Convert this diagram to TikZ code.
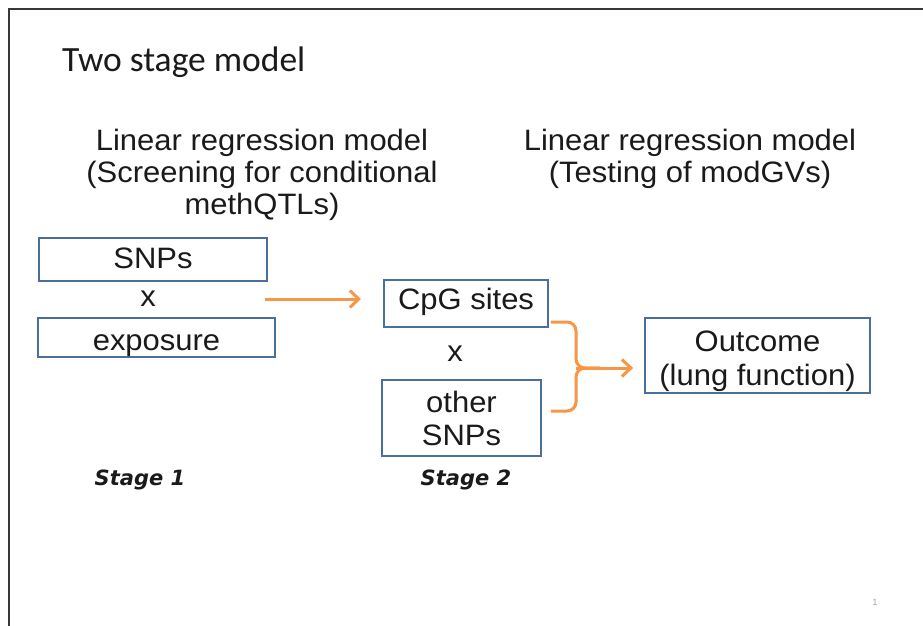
\documentclass[tikz,border=0pt]{standalone}
\usepackage{fontspec}
\setmainfont[FakeStretch=1.05]{Liberation Sans}
\newfontfamily\titlefont{Carlito}
\newfontfamily\stagefont{DejaVu Sans}
\usetikzlibrary{arrows.meta,calc}
\definecolor{boxblue}{HTML}{4A6EA0}
\definecolor{arrorange}{HTML}{F79646}
\definecolor{frame}{HTML}{383838}
\definecolor{txt}{HTML}{1A1A1A}
\tikzset{
  box/.style={draw=boxblue,line width=1.8pt,inner sep=0pt,align=center,text=txt,
    font=\fontsize{29.5}{33}\selectfont},
  plain/.style={inner sep=0pt,align=center,text=txt,font=\fontsize{29.5}{32}\selectfont},
  stagelbl/.style={inner sep=0pt,text=txt,font=\stagefont\bfseries\itshape\fontsize{21}{24}\selectfont},
  conn/.style={draw=arrorange,line width=3pt},
  arr/.style={conn,-{Straight Barb[length=9pt,width=17pt,line width=3pt]}}
}
\begin{document}
\begin{tikzpicture}[x=1pt,y=-1pt]
\useasboundingbox (0,0) rectangle (923,626);
\fill[white] (0,0) rectangle (923,626);
\draw[frame,line width=2.6pt] (9,626) -- (9,9) -- (923,9);
\node[anchor=west,inner sep=0pt,text=txt,font=\titlefont\fontsize{35.5}{40}\selectfont] (title) at (62,62) {Two stage model};
\node[plain] (h1) at (262,175) {Linear regression model\\(Screening for conditional\\methQTLs)};
\node[plain] (h2) at (690,159) {Linear regression model\\(Testing of modGVs)};
\node[box,minimum width=228pt,minimum height=43pt,text height=21pt,text depth=3pt] (snps) at (153,259.5) {SNPs};
\node[plain] (x1) at (148,299) {x};
\node[box,minimum width=237pt,minimum height=39pt,text height=25pt,text depth=0pt] (expo) at (156.5,337.5) {exposure};
\node[box,minimum width=164pt,minimum height=47pt,text height=18pt,text depth=7pt] (cpg) at (466,303.5) {CpG sites};
\node[plain] (x2) at (455,354) {x};
\node[box,minimum width=159pt,minimum height=76pt] (other) at (461.5,418) {other\\SNPs};
\node[box,minimum width=225pt,minimum height=75pt,text height=67pt,font=\fontsize{29.5}{34}\selectfont] (out) at (757.5,355.5) {Outcome\\(lung function)};
\node[stagelbl] (s1) at (140,480) {Stage 1};
\node[stagelbl] (s2) at (466,480) {Stage 2};
\node[inner sep=0pt,text=gray!70,font=\fontsize{9}{10}\selectfont] (pg) at (875,602) {1};
\coordinate (a1) at (265,299);
\coordinate (a2) at (361,299);
\draw[arr] (a1) -- (a2);
\coordinate (j) at (576,368);
\draw[conn,rounded corners=9pt] ([xshift=2pt,yshift=-18.5pt]cpg.east) -| (j) -- (600,368);
\draw[conn,rounded corners=9pt] ([xshift=9pt,yshift=7pt]other.east) -| (j) -- (600,368);
\draw[arr] (j) -- ([xshift=-11pt]j -| out.west);
\end{tikzpicture}
\end{document}
